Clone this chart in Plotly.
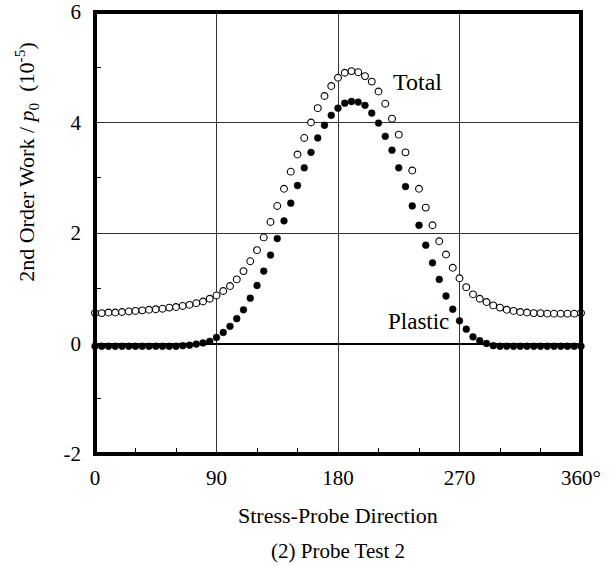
import plotly.graph_objects as go

directions = list(range(0, 365, 5))

total_work = [
    0.55, 0.55, 0.56, 0.56, 0.57, 0.58, 0.59, 0.60, 0.61, 0.62,
    0.63, 0.65, 0.66, 0.68, 0.70, 0.73, 0.76, 0.81, 0.87, 0.95,
    1.04, 1.16, 1.31, 1.49, 1.69, 1.92, 2.20, 2.49, 2.80, 3.11,
    3.42, 3.72, 4.00, 4.26, 4.48, 4.66, 4.81, 4.90, 4.93, 4.91,
    4.84, 4.74, 4.56, 4.34, 4.07, 3.78, 3.46, 3.13, 2.80, 2.46,
    2.14, 1.85, 1.61, 1.37, 1.18, 1.02, 0.89, 0.81, 0.75, 0.69,
    0.65, 0.61, 0.59, 0.57, 0.56, 0.55, 0.55, 0.54, 0.54, 0.54,
    0.54, 0.54, 0.55,
]

plastic_work = [
    -0.05, -0.05, -0.05, -0.05, -0.05, -0.05, -0.05, -0.05, -0.05, -0.05,
    -0.05, -0.05, -0.05, -0.04, -0.03, -0.01, 0.01, 0.04, 0.11, 0.20,
    0.31, 0.45, 0.61, 0.82, 1.05, 1.31, 1.60, 1.90, 2.22, 2.54,
    2.86, 3.18, 3.46, 3.72, 3.95, 4.13, 4.26, 4.35, 4.38, 4.37,
    4.31, 4.17, 3.99, 3.75, 3.50, 3.18, 2.84, 2.49, 2.14, 1.78,
    1.46, 1.16, 0.86, 0.62, 0.41, 0.26, 0.12, 0.05, 0.00, -0.04,
    -0.05, -0.05, -0.05, -0.05, -0.05, -0.05, -0.05, -0.05, -0.05, -0.05,
    -0.05, -0.05, -0.05,
]

x_tickvals = [0, 90, 180, 270, 360]
x_ticktext = ["0", "90", "180", "270", "360°"]
y_tickvals = [-2, 0, 2, 4, 6]
y_ticktext = ["-2", "0", "2", "4", "6"]

FONT = "Liberation Serif"

fig = go.Figure()
fig.add_trace(go.Scatter(
    x=directions, y=total_work, mode="markers", name="Total",
    marker=dict(symbol="circle", size=6.8, color="white",
                line=dict(color="black", width=1.1)),
    cliponaxis=False,
))
fig.add_trace(go.Scatter(
    x=directions, y=plastic_work, mode="markers", name="Plastic",
    marker=dict(symbol="circle", size=6.8, color="black",
                line=dict(color="black", width=0.5)),
    cliponaxis=False,
))

fig.update_layout(
    width=613, height=566,
    margin=dict(l=95, r=32, t=12, b=112),
    paper_bgcolor="white", plot_bgcolor="white",
    showlegend=False,
    font=dict(family=FONT, size=21, color="black"),
    xaxis=dict(
        range=[0, 360], tickvals=x_tickvals, ticktext=x_ticktext,
        automargin=False,
        showgrid=True, gridcolor="#333", gridwidth=1,
        zeroline=False, showline=False,
        ticks="", ticklabelstandoff=9,
        minor=dict(tickvals=[30, 60, 120, 150, 210, 240, 300, 330],
                   ticks="inside", ticklen=6, tickcolor="black", tickwidth=1,
                   showgrid=False),
        tickfont=dict(family=FONT, size=21),
    ),
    yaxis=dict(
        range=[-2, 6], tickvals=y_tickvals, ticktext=y_ticktext,
        automargin=False,
        showgrid=True, gridcolor="#333", gridwidth=1,
        zeroline=True, zerolinecolor="black", zerolinewidth=1.5,
        showline=False, ticks="", ticklabelstandoff=13,
        minor=dict(tickvals=[-1, 1, 3, 5], ticks="inside", ticklen=6,
                   tickcolor="black", tickwidth=1, showgrid=False),
        tickfont=dict(family=FONT, size=21),
    ),
    shapes=[dict(type="rect", xref="paper", yref="paper", x0=0, x1=1, y0=0, y1=1,
                 line=dict(color="black", width=4), layer="above")],
    annotations=[
        dict(text="Total", x=238.6, y=4.74, xref="x", yref="y", showarrow=False,
             font=dict(family=FONT, size=24), xanchor="center", yanchor="middle"),
        dict(text="Plastic", x=239.5, y=0.39, xref="x", yref="y", showarrow=False,
             font=dict(family=FONT, size=23), xanchor="center", yanchor="middle"),
        dict(text="Stress-Probe Direction", x=0.5, y=-0.140, xref="paper", yref="paper",
             showarrow=False, font=dict(family=FONT, size=22),
             xanchor="center", yanchor="middle"),
        dict(text="(2) Probe Test 2", x=0.5, y=-0.220, xref="paper", yref="paper",
             showarrow=False, font=dict(family=FONT, size=21),
             xanchor="center", yanchor="middle"),
        dict(text="2nd Order Work / <i>p</i><sub>0</sub>  (10<sup>-5</sup>)",
             x=-0.140, y=0.661, xref="paper", yref="paper", textangle=-90,
             showarrow=False, font=dict(family=FONT, size=22),
             xanchor="center", yanchor="middle"),
    ],
)

fig.write_html("out.html")
